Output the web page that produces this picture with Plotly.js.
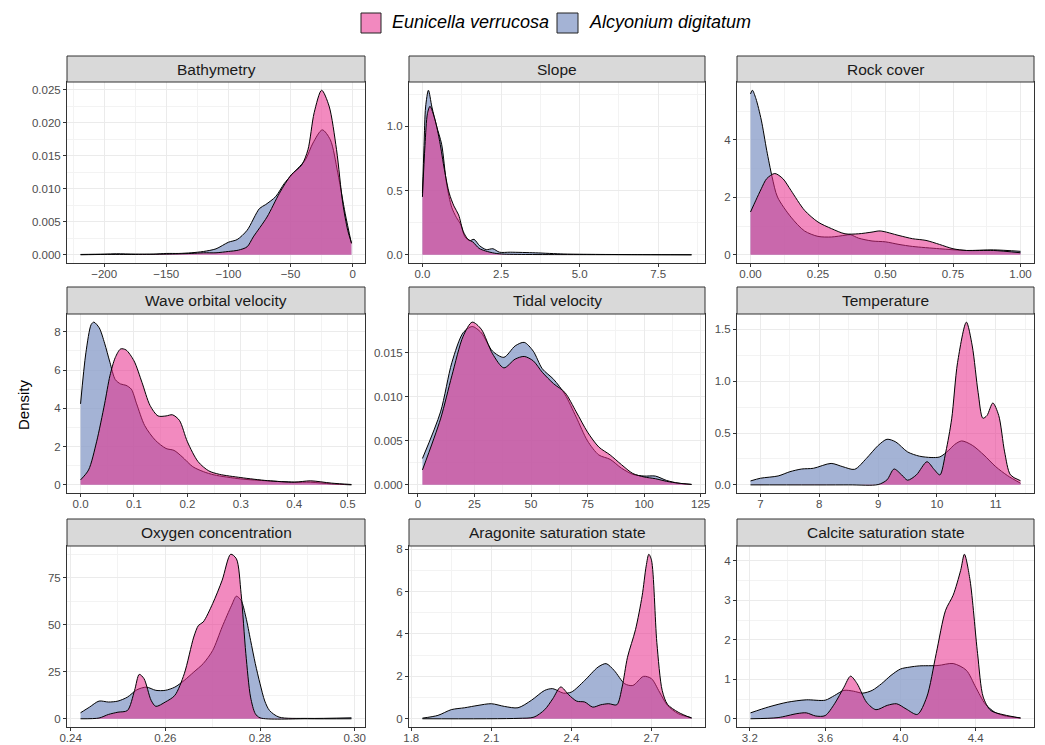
<!DOCTYPE html>
<html>
<head>
<meta charset="utf-8">
<script src="https://cdn.plot.ly/plotly-3.0.1.min.js"></script>
<style>html,body{margin:0;padding:0;background:#fff;}#chart{width:1045px;height:745px;}</style>
</head>
<body>
<div id="chart"></div>
<script>
// ---------------- DATA ----------------
const species = ['Eunicella verrucosa', 'Alcyonium digitatum'];
const panelTitles = ['Bathymetry', 'Slope', 'Rock cover', 'Wave orbital velocity', 'Tidal velocity',
  'Temperature', 'Oxygen concentration', 'Aragonite saturation state', 'Calcite saturation state'];

// Bathymetry
const bathy_alc_x = [-219,-200,-190,-175,-160,-150,-140,-130,-120,-110,-100,-93,-85,-75,-70,-62,-55,-49,-44,-38,-32,-24.5,-18,-12,-6,-1];
const bathy_alc_y = [0.00005,0.0001,0.00015,0.0001,0.0001,0.0002,0.0002,0.0003,0.0005,0.0009,0.0019,0.0023,0.0037,0.0070,0.0076,0.0088,0.0108,0.0121,0.0131,0.0144,0.0169,0.0189,0.0174,0.0124,0.0062,0.0017];
const bathy_eun_x = [-219,-200,-175,-150,-130,-120,-110,-100,-92,-85,-80,-69,-59,-49.5,-41,-36,-31,-25,-19,-13,-8,-4,-1];
const bathy_eun_y = [0,0.00005,0.00005,0.0001,0.0002,0.0003,0.0003,0.0005,0.0007,0.0012,0.0027,0.0057,0.0093,0.0121,0.0136,0.0159,0.0215,0.0249,0.0225,0.0159,0.0078,0.0037,0.0018];
const bathy_xticks = [-200,-150,-100,-50,0];
const bathy_xlabels = ['\u2212200','\u2212150','\u2212100','\u221250','0'];
const bathy_yticks = [0,0.005,0.01,0.015,0.02,0.025];
const bathy_ylabels = ['0.000','0.005','0.010','0.015','0.020','0.025'];

// Slope
const slope_alc_x = [0,0.05,0.1,0.19,0.3,0.45,0.61,0.77,0.93,1.08,1.21,1.35,1.5,1.64,1.82,2.03,2.24,2.45,2.8,3.6,4.5,5.5,7,8.56];
const slope_alc_y = [0.48,0.85,1.15,1.28,1.15,1.0,0.86,0.55,0.37,0.29,0.24,0.14,0.11,0.12,0.07,0.04,0.047,0.02,0.02,0.015,0.006,0.003,0.001,0];
const slope_eun_x = [0,0.08,0.16,0.24,0.4,0.55,0.7,0.85,1.0,1.15,1.3,1.45,1.6,1.8,2.0,2.3,2.6,3.5,5,8.56];
const slope_eun_y = [0.45,0.85,1.1,1.155,1.05,0.88,0.66,0.48,0.38,0.31,0.18,0.12,0.1,0.05,0.03,0.012,0.005,0.002,0.001,0];
const slope_xticks = [0,2.5,5,7.5];
const slope_xlabels = ['0.0','2.5','5.0','7.5'];
const slope_yticks = [0,0.5,1];
const slope_ylabels = ['0.0','0.5','1.0'];

// Rock cover
const rock_alc_x = [0,0.007,0.02,0.04,0.06,0.08,0.1,0.15,0.2,0.25,0.3,0.35,0.37,0.4,0.45,0.5,0.55,0.6,0.7,0.8,0.9,1.0];
const rock_alc_y = [5.6,5.73,5.44,4.69,3.64,2.71,2.01,1.31,0.83,0.64,0.62,0.68,0.70,0.58,0.48,0.45,0.36,0.29,0.21,0.15,0.17,0.12];
const rock_eun_x = [0,0.02,0.04,0.06,0.09,0.12,0.15,0.2,0.25,0.3,0.35,0.4,0.45,0.48,0.55,0.6,0.65,0.7,0.75,0.8,0.9,1.0];
const rock_eun_y = [1.49,1.9,2.3,2.65,2.83,2.65,2.24,1.55,1.14,0.91,0.73,0.73,0.79,0.83,0.67,0.56,0.5,0.36,0.21,0.15,0.15,0.07];
const rock_xticks = [0,0.25,0.5,0.75,1];
const rock_xlabels = ['0.00','0.25','0.50','0.75','1.00'];
const rock_yticks = [0,2,4];
const rock_ylabels = ['0','2','4'];

// Wave orbital velocity
const wave_alc_x = [0,0.01,0.02,0.025,0.035,0.045,0.055,0.065,0.075,0.085,0.095,0.105,0.12,0.14,0.16,0.175,0.19,0.21,0.23,0.25,0.3,0.35,0.4,0.43,0.47,0.507];
const wave_alc_y = [4.23,6.9,8.38,8.5,8.2,7.4,6.4,5.5,5.27,5.2,5.0,4.23,3.1,2.33,1.9,1.8,1.47,0.95,0.69,0.52,0.31,0.21,0.14,0.14,0.05,0.0];
const wave_eun_x = [0,0.015,0.03,0.045,0.055,0.065,0.075,0.085,0.1,0.115,0.13,0.145,0.16,0.172,0.185,0.2,0.22,0.24,0.26,0.3,0.35,0.4,0.43,0.47,0.507];
const wave_eun_y = [0.26,0.78,2.25,4.23,5.7,6.65,7.1,7.05,6.48,5.35,4.15,3.6,3.6,3.66,3.37,2.25,1.21,0.73,0.55,0.38,0.22,0.14,0.21,0.09,0.02];
const wave_xticks = [0,0.1,0.2,0.3,0.4,0.5];
const wave_xlabels = ['0.0','0.1','0.2','0.3','0.4','0.5'];
const wave_yticks = [0,2,4,6,8];
const wave_ylabels = ['0','2','4','6','8'];

// Tidal velocity
const tidal_alc_x = [2,10,15,20,24,28,33,38,43,47,51,55,60,65,70,75,80,85,90,95,100,105,110,115,121];
const tidal_alc_y = [0.0030,0.0083,0.0139,0.0173,0.0180,0.0173,0.0152,0.0145,0.0158,0.0162,0.0152,0.0132,0.0120,0.0103,0.0077,0.0050,0.0034,0.0029,0.0019,0.0012,0.0010,0.0010,0.0005,0.0002,0.00005];
const tidal_eun_x = [2,10,15,20,24,28,33,38,43,47,51,55,60,65,70,75,80,85,90,95,100,105,110,115,121];
const tidal_eun_y = [0.0017,0.0075,0.0124,0.0169,0.0185,0.0177,0.0149,0.0133,0.0143,0.0146,0.0141,0.0128,0.0115,0.0105,0.0083,0.0060,0.0043,0.0034,0.0023,0.0013,0.0009,0.0007,0.0004,0.0002,0.00005];
const tidal_xticks = [0,25,50,75,100,125];
const tidal_xlabels = ['0','25','50','75','100','125'];
const tidal_yticks = [0,0.005,0.01,0.015];
const tidal_ylabels = ['0.000','0.005','0.010','0.015'];

// Temperature
const temp_alc_x = [6.83,7.0,7.3,7.5,7.7,7.9,8.2,8.4,8.6,8.8,9.0,9.15,9.3,9.5,9.7,9.9,10.05,10.2,10.3,10.42,10.6,10.8,11.0,11.2,11.42];
const temp_alc_y = [0.038,0.064,0.086,0.127,0.153,0.16,0.207,0.175,0.15,0.255,0.38,0.44,0.414,0.318,0.277,0.264,0.27,0.334,0.389,0.424,0.382,0.287,0.175,0.089,0.016];
const temp_eun_x = [6.83,8.5,9.0,9.15,9.27,9.4,9.5,9.65,9.83,9.95,10.05,10.15,10.25,10.35,10.5,10.6,10.7,10.78,10.85,10.95,11.05,11.15,11.25,11.42];
const temp_eun_y = [0,0,0.003,0.048,0.153,0.096,0.045,0.096,0.223,0.15,0.096,0.318,0.637,1.18,1.57,1.34,0.89,0.643,0.669,0.79,0.669,0.318,0.096,0.04];
const temp_xticks = [7,8,9,10,11];
const temp_xlabels = ['7','8','9','10','11'];
const temp_yticks = [0,0.5,1,1.5];
const temp_ylabels = ['0.0','0.5','1.0','1.5'];

// Oxygen concentration
const oxy_alc_x = [0.2421,0.244,0.246,0.248,0.25,0.252,0.254,0.256,0.258,0.26,0.262,0.264,0.266,0.268,0.27,0.272,0.274,0.275,0.276,0.277,0.278,0.279,0.28,0.281,0.282,0.284,0.29,0.2993];
const oxy_alc_y = [3.2,6.2,9.4,8.9,9.4,11.5,15.4,16.8,15.1,15.1,16.8,20.4,24.8,29.3,36.3,48.8,60.3,65.1,62.9,54.1,41.7,29.3,18.6,9.4,4.4,0.9,0.2,0.5];
const oxy_eun_x = [0.2421,0.246,0.248,0.25,0.252,0.2535,0.2545,0.2555,0.257,0.258,0.26,0.262,0.264,0.266,0.267,0.268,0.27,0.272,0.2738,0.275,0.276,0.277,0.278,0.279,0.28,0.29,0.2993];
const oxy_eun_y = [0,0.4,2.3,3.5,4.4,15,23.6,21.3,9.8,6.6,8.9,12.4,23.9,43.4,49.6,51.4,61.2,73.6,87.4,85,66.5,34.6,11.5,2.7,0.5,0,0];
const oxy_xticks = [0.24,0.26,0.28,0.30];
const oxy_xlabels = ['0.24','0.26','0.28','0.30'];
const oxy_yticks = [0,25,50,75];
const oxy_ylabels = ['0','25','50','75'];

// Aragonite saturation state
const arag_alc_x = [1.842,1.9,1.95,2.0,2.05,2.1,2.15,2.2,2.25,2.3,2.33,2.37,2.4,2.45,2.5,2.53,2.56,2.6,2.63,2.67,2.7,2.73,2.76,2.8,2.85];
const arag_alc_y = [0.03,0.16,0.43,0.52,0.63,0.71,0.58,0.52,0.87,1.34,1.42,1.21,1.26,1.81,2.44,2.6,2.28,1.65,1.57,2.0,1.89,1.26,0.63,0.24,0.05];
const arag_eun_x = [1.842,2.2,2.26,2.3,2.33,2.36,2.39,2.42,2.45,2.48,2.51,2.54,2.57,2.59,2.61,2.64,2.665,2.68,2.69,2.7,2.72,2.74,2.76,2.8,2.85];
const arag_eun_y = [0,0.02,0.08,0.43,0.94,1.5,1.13,0.83,0.79,0.55,0.66,0.71,0.66,1.5,2.9,4.2,5.8,7.2,7.76,7.48,3.6,1.34,0.68,0.31,0.03];
const arag_xticks = [1.8,2.1,2.4,2.7];
const arag_xlabels = ['1.8','2.1','2.4','2.7'];
const arag_yticks = [0,2,4,6,8];
const arag_ylabels = ['0','2','4','6','8'];

// Calcite saturation state
const calc_alc_x = [3.2035,3.3,3.4,3.5,3.6,3.65,3.7,3.75,3.8,3.85,3.9,3.95,4.0,4.05,4.1,4.2,4.28,4.35,4.4,4.45,4.5,4.55,4.638];
const calc_alc_y = [0.15,0.3,0.42,0.48,0.47,0.59,0.72,0.7,0.65,0.72,0.89,1.1,1.26,1.31,1.34,1.35,1.4,1.23,0.8,0.38,0.17,0.08,0.02];
const calc_eun_x = [3.2035,3.35,3.45,3.5,3.55,3.6,3.65,3.7,3.735,3.77,3.82,3.87,3.93,3.98,4.03,4.09,4.14,4.19,4.24,4.28,4.32,4.34,4.37,4.41,4.44,4.48,4.55,4.638];
const calc_eun_y = [0,0.03,0.13,0.15,0.07,0.08,0.38,0.8,1.08,0.89,0.42,0.23,0.34,0.38,0.25,0.11,0.55,1.65,2.75,3.13,3.76,4.17,3.51,1.65,0.55,0.21,0.1,0.02];
const calc_xticks = [3.2,3.6,4.0,4.4];
const calc_xlabels = ['3.2','3.6','4.0','4.4'];
const calc_yticks = [0,1,2,3,4];
const calc_ylabels = ['0','1','2','3','4'];

// ---------------- BUILD ----------------
const panels = [
  {ax:bathy_alc_x, ay:bathy_alc_y, ex:bathy_eun_x, ey:bathy_eun_y, xt:bathy_xticks, xl:bathy_xlabels, yt:bathy_yticks, yl:bathy_ylabels},
  {ax:slope_alc_x, ay:slope_alc_y, ex:slope_eun_x, ey:slope_eun_y, xt:slope_xticks, xl:slope_xlabels, yt:slope_yticks, yl:slope_ylabels},
  {ax:rock_alc_x, ay:rock_alc_y, ex:rock_eun_x, ey:rock_eun_y, xt:rock_xticks, xl:rock_xlabels, yt:rock_yticks, yl:rock_ylabels},
  {ax:wave_alc_x, ay:wave_alc_y, ex:wave_eun_x, ey:wave_eun_y, xt:wave_xticks, xl:wave_xlabels, yt:wave_yticks, yl:wave_ylabels},
  {ax:tidal_alc_x, ay:tidal_alc_y, ex:tidal_eun_x, ey:tidal_eun_y, xt:tidal_xticks, xl:tidal_xlabels, yt:tidal_yticks, yl:tidal_ylabels},
  {ax:temp_alc_x, ay:temp_alc_y, ex:temp_eun_x, ey:temp_eun_y, xt:temp_xticks, xl:temp_xlabels, yt:temp_yticks, yl:temp_ylabels},
  {ax:oxy_alc_x, ay:oxy_alc_y, ex:oxy_eun_x, ey:oxy_eun_y, xt:oxy_xticks, xl:oxy_xlabels, yt:oxy_yticks, yl:oxy_ylabels},
  {ax:arag_alc_x, ay:arag_alc_y, ex:arag_eun_x, ey:arag_eun_y, xt:arag_xticks, xl:arag_xlabels, yt:arag_yticks, yl:arag_ylabels},
  {ax:calc_alc_x, ay:calc_alc_y, ex:calc_eun_x, ey:calc_eun_y, xt:calc_xticks, xl:calc_xlabels, yt:calc_yticks, yl:calc_ylabels}
];

const W = 1045, H = 745;
const FONT = 'Liberation Sans, Arial, Helvetica, sans-serif';
const PINK_FILL = 'rgba(231,41,138,0.55)';
const BLUE_FILL = 'rgba(141,160,203,0.8)';
const PINK_KEY = 'rgb(242,137,191)';
const BLUE_KEY = 'rgb(164,179,213)';
const cols = [[67,365],[409,705],[737,1034]];          // px left/right
const rows = [[82,263,56],[314,493,287],[546,727,519]]; // px plotTop, plotBottom, stripTop

const traces = [], layout = {
  width: W, height: H, autosize: false,
  margin: {l:0, r:0, t:0, b:0, pad:0},
  paper_bgcolor: '#fff', plot_bgcolor: '#fff',
  showlegend: false,
  font: {family: FONT, color: '#1a1a1a'},
  shapes: [], annotations: []
};

panels.forEach((p, i) => {
  const r = Math.floor(i / 3), c = i % 3;
  const id = i === 0 ? '' : String(i + 1);
  const xa = 'x' + id, ya = 'y' + id;
  const xs = p.ax.concat(p.ex), ys = p.ay.concat(p.ey);
  const xmin = Math.min(...xs), xmax = Math.max(...xs), ymax = Math.max(...ys);
  const xpad = 0.05 * (xmax - xmin);
  const xdom = [cols[c][0] / W, cols[c][1] / W];
  const ydom = [1 - rows[r][1] / H, 1 - rows[r][0] / H];
  const xstep = p.xt[1] - p.xt[0], ystep = p.yt[1] - p.yt[0];
  const common = {
    showline: true, mirror: true, linecolor: '#333333', linewidth: 1,
    ticks: 'outside', ticklen: 3, tickwidth: 1, tickcolor: '#333333',
    tickfont: {family: FONT, size: 11.5, color: '#4d4d4d'},
    showgrid: true, gridcolor: '#ebebeb', gridwidth: 1,
    zeroline: false, fixedrange: true, tickmode: 'array'
  };
  layout['xaxis' + id] = Object.assign({}, common, {
    domain: xdom, anchor: ya, range: [xmin - xpad, xmax + xpad],
    tickvals: p.xt, ticktext: p.xl, ticklabelstandoff: -3,
    minor: {tickmode: 'linear', tick0: p.xt[0] - xstep / 2, dtick: xstep, showgrid: true, gridcolor: '#f3f3f3', gridwidth: 1, ticks: ''}
  });
  layout['yaxis' + id] = Object.assign({}, common, {
    domain: ydom, anchor: xa, range: [-0.05 * ymax, 1.05 * ymax],
    tickvals: p.yt, ticktext: p.yl,
    minor: {tickmode: 'linear', tick0: p.yt[0] - ystep / 2, dtick: ystep, showgrid: true, gridcolor: '#f3f3f3', gridwidth: 1, ticks: ''}
  });
  // Alcyonium (blue) first, Eunicella (pink) drawn over it
  traces.push({type: 'scatter', mode: 'lines', x: p.ax, y: p.ay, xaxis: xa, yaxis: ya,
    fill: 'tozeroy', fillcolor: BLUE_FILL, line: {color: '#000', width: 1, shape: 'spline', smoothing: 0.8},
    name: species[1], hoverinfo: 'skip'});
  traces.push({type: 'scatter', mode: 'lines', x: p.ex, y: p.ey, xaxis: xa, yaxis: ya,
    fill: 'tozeroy', fillcolor: PINK_FILL, line: {color: '#000', width: 1, shape: 'spline', smoothing: 0.8},
    name: species[0], hoverinfo: 'skip'});
  // strip
  layout.shapes.push({type: 'rect', xref: 'paper', yref: 'paper',
    x0: xdom[0], x1: xdom[1], y0: ydom[1], y1: 1 - rows[r][2] / H,
    fillcolor: '#d9d9d9', line: {color: '#333333', width: 1}, layer: 'above'});
  layout.annotations.push({xref: 'paper', yref: 'paper', x: (xdom[0] + xdom[1]) / 2,
    y: (ydom[1] + 1 - rows[r][2] / H) / 2, xanchor: 'center', yanchor: 'middle',
    text: panelTitles[i], showarrow: false, font: {family: FONT, size: 15.5, color: '#1a1a1a'}});
});

// y-axis title
layout.annotations.push({xref: 'paper', yref: 'paper', x: 23 / W, y: 1 - 405 / H,
  xanchor: 'center', yanchor: 'middle', textangle: -90, text: 'Density', showarrow: false,
  font: {family: FONT, size: 15, color: '#000'}});

// legend (drawn manually at top centre)
const keys = [[361, 381, PINK_KEY, 390], [557, 578, BLUE_KEY, 587]];
keys.forEach((k, j) => {
  layout.shapes.push({type: 'rect', xref: 'paper', yref: 'paper',
    x0: k[0] / W, x1: k[1] / W, y0: 1 - 33 / H, y1: 1 - 13 / H,
    fillcolor: k[2], line: {color: '#222', width: 1}});
  layout.annotations.push({xref: 'paper', yref: 'paper', x: k[3] / W, y: 1 - 22 / H,
    xanchor: 'left', yanchor: 'middle', text: '<i>' + species[j] + '</i>', showarrow: false,
    font: {family: FONT, size: 18, color: '#000'}});
});

Plotly.newPlot('chart', traces, layout, {displayModeBar: false, staticPlot: true});
</script>
</body>
</html>
